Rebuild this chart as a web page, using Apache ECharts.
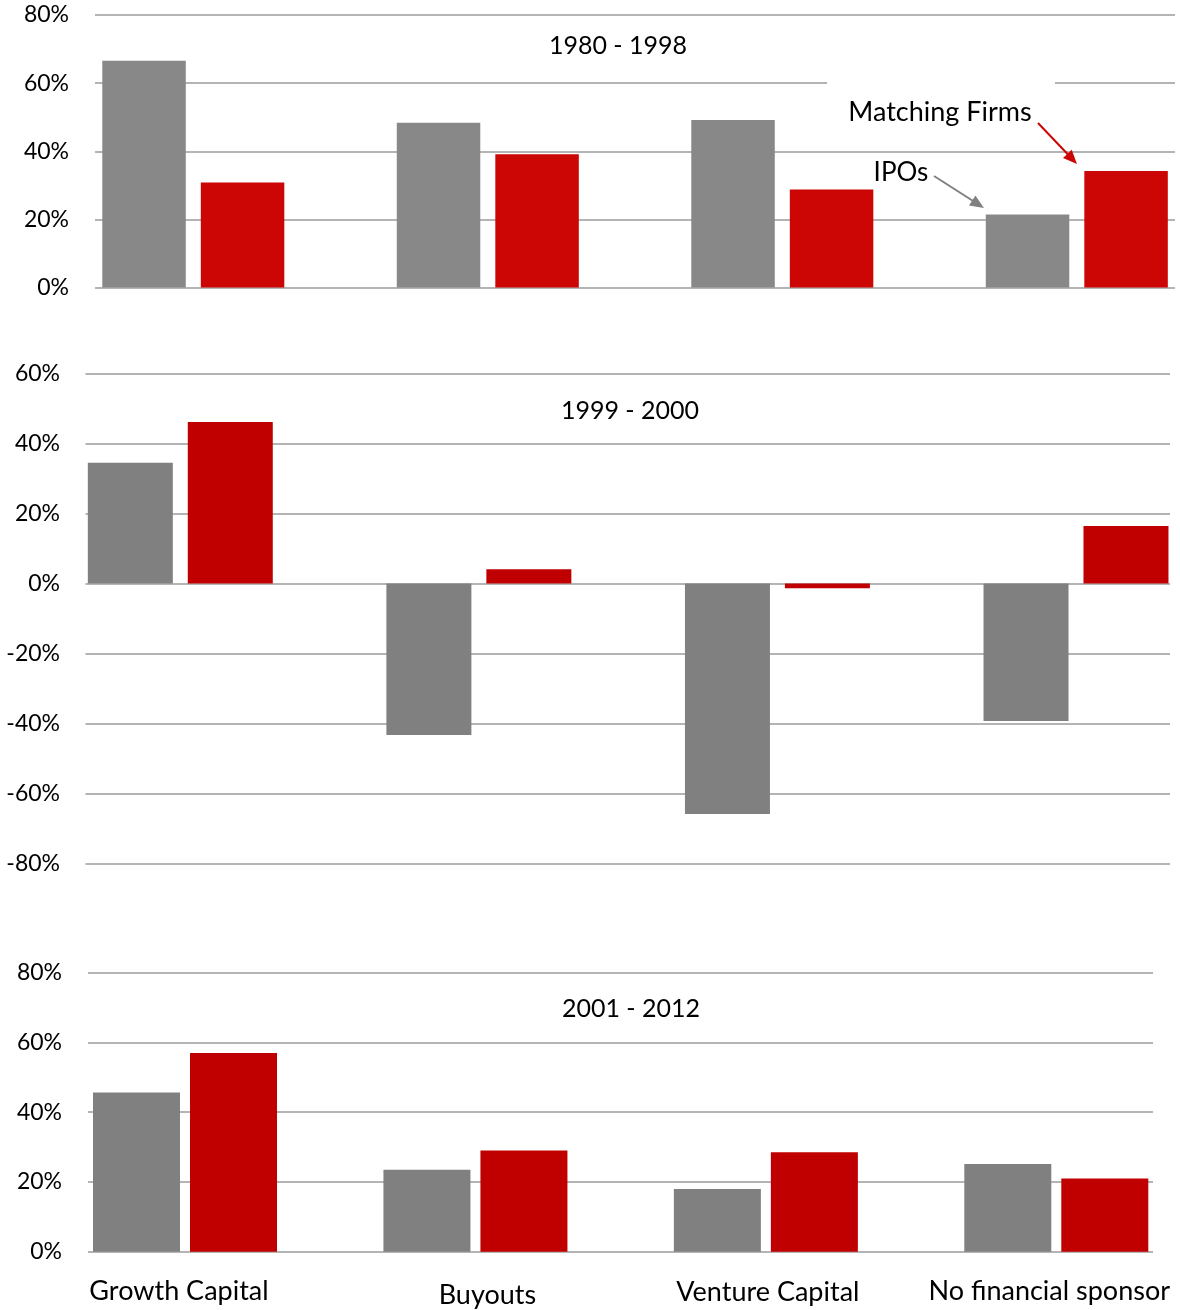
<!DOCTYPE html>
<html><head><meta charset="utf-8">
<script src="https://cdn.jsdelivr.net/npm/echarts@6/dist/echarts.min.js"></script>
<style>html,body{margin:0;padding:0;background:#fff}#c{width:1180px;height:1310px}</style>
</head><body><div id="c"></div>
<script>
// ---- data ----
const categories = ['Growth Capital', 'Buyouts', 'Venture Capital', 'No financial sponsor'];
const periods = ['1980 - 1998', '1999 - 2000', '2001 - 2012'];
const ipos1980 = [66.6, 48.4, 49.2, 21.4];
const matching1980 = [30.8, 39.1, 28.8, 34.2];
const ipos1999 = [34.5, -43.2, -65.7, -39.2];
const matching1999 = [46.1, 4.1, -1.3, 16.4];
const ipos2001 = [45.6, 23.5, 18.0, 25.1];
const matching2001 = [56.9, 29.0, 28.5, 21.0];
const yRange1980 = [0, 80];
const yRange1999 = [-80, 60];
const yRange2001 = [0, 80];
const tickStep = 20;
const annotationLabels = ['Matching Firms', 'IPOs'];

// ---- layout / style ----
const FONT = 'Lato';
const panels = [
  { ipo: ipos1980, match: matching1980, range: yRange1980, title: periods[0],
    lines: { left: 95, width: 1080, top: 15, height: 272.5 },
    bars: { left: 193.3, width: 883.5 }, barWidth: 83.5, barGap: '18%',
    gray: '#888888', red: '#CC0605', titleXY: [618, 46], labelMargin: 26 },
  { ipo: ipos1999, match: matching1999, range: yRange1999, title: periods[1],
    lines: { left: 85.5, width: 1084.5, top: 373.3, height: 490.7 },
    bars: { left: 180.3, width: 895.7 }, barWidth: 85, barGap: '17.6%',
    gray: '#808080', red: '#C00000', titleXY: [630, 411], labelMargin: 25.5 },
  { ipo: ipos2001, match: matching2001, range: yRange2001, title: periods[2],
    lines: { left: 88, width: 1065, top: 972.5, height: 279.2 },
    bars: { left: 185, width: 871.3 }, barWidth: 87, barGap: '11.5%',
    gray: '#808080', red: '#C00000', titleXY: [631, 1009], labelMargin: 26 }
];

const grid = [], xAxis = [], yAxis = [], series = [], graphic = [];
const labelShift = [[-6, 0], [12, 4], [2, 1], [-7, 0]];
const rich = {};
labelShift.forEach((s, i) => {
  rich['c' + i] = {
    fontFamily: FONT, fontSize: 27, color: '#000',
    padding: [s[1], s[0] < 0 ? -2 * s[0] : 0, 0, s[0] > 0 ? 2 * s[0] : 0]
  };
});

panels.forEach((p, k) => {
  const gl = grid.length;
  grid.push(Object.assign({ containLabel: false }, p.lines));
  grid.push(Object.assign({ containLabel: false, top: p.lines.top, height: p.lines.height }, p.bars));
  // gridline grid
  xAxis.push({ type: 'category', gridIndex: gl, data: categories, show: false });
  yAxis.push({
    type: 'value', gridIndex: gl, min: p.range[0], max: p.range[1], interval: tickStep,
    axisLine: { show: false }, axisTick: { show: false },
    splitLine: { show: true, lineStyle: { color: '#9b9b9b', width: 1.6 } },
    axisLabel: { formatter: v => v + '%', fontFamily: FONT, fontSize: 23, color: '#000', margin: p.labelMargin }
  });
  // bar grid
  const isLast = k === panels.length - 1;
  xAxis.push({
    type: 'category', gridIndex: gl + 1, data: categories, boundaryGap: false,
    axisLine: { show: false }, axisTick: { show: false }, splitLine: { show: false },
    axisLabel: isLast ? {
      show: true, interval: 0, margin: 26,
      formatter: (v, i) => '{c' + i + '|' + v + '}', rich: rich
    } : { show: false }
  });
  yAxis.push({ type: 'value', gridIndex: gl + 1, min: p.range[0], max: p.range[1], interval: tickStep, show: false, splitLine: { show: false } });
  series.push({ type: 'bar', name: 'IPOs', xAxisIndex: gl + 1, yAxisIndex: gl + 1, data: p.ipo, clip: false,
    barWidth: p.barWidth, barGap: p.barGap, itemStyle: { color: p.gray }, z: 5, silent: true });
  series.push({ type: 'bar', name: 'Matching Firms', xAxisIndex: gl + 1, yAxisIndex: gl + 1, data: p.match, clip: false,
    barWidth: p.barWidth, barGap: p.barGap, itemStyle: { color: p.red }, z: 5, silent: true });
  graphic.push({ type: 'text', x: p.titleXY[0], y: p.titleXY[1], z: 100,
    style: { text: p.title, fontFamily: FONT, fontSize: 25, fill: '#000', align: 'center', verticalAlign: 'middle' } });
});

function arrow(x1, y1, x2, y2, color) {
  const dx = x2 - x1, dy = y2 - y1, L = Math.hypot(dx, dy);
  const ux = dx / L, uy = dy / L, hl = 14, hw = 6;
  const bx = x2 - ux * hl, by = y2 - uy * hl;
  return [
    { type: 'line', z: 100, shape: { x1: x1, y1: y1, x2: bx + ux * 2, y2: by + uy * 2 }, style: { stroke: color, lineWidth: 2 } },
    { type: 'polygon', z: 100, shape: { points: [[x2, y2], [bx - uy * hw, by + ux * hw], [bx + uy * hw, by - ux * hw]] }, style: { fill: color } }
  ];
}

graphic.push({ type: 'rect', z: 99, shape: { x: 827, y: 74, width: 228, height: 16 }, style: { fill: '#fff' } });
graphic.push({ type: 'text', x: 940, y: 112, z: 100,
  style: { text: annotationLabels[0], fontFamily: FONT, fontSize: 27, fill: '#000', align: 'center', verticalAlign: 'middle' } });
graphic.push({ type: 'text', x: 901, y: 173, z: 100,
  style: { text: annotationLabels[1], fontFamily: FONT, fontSize: 26, fill: '#000', align: 'center', verticalAlign: 'middle' } });
arrow(1038, 123, 1077, 164, '#CC0605').forEach(e => graphic.push(e));
arrow(934, 176, 984, 208, '#808080').forEach(e => graphic.push(e));

const chart = echarts.init(document.getElementById('c'), null, { renderer: 'canvas' });
chart.setOption({
  animation: false,
  backgroundColor: '#fff',
  grid: grid, xAxis: xAxis, yAxis: yAxis, series: series, graphic: graphic
});
</script></body></html>
